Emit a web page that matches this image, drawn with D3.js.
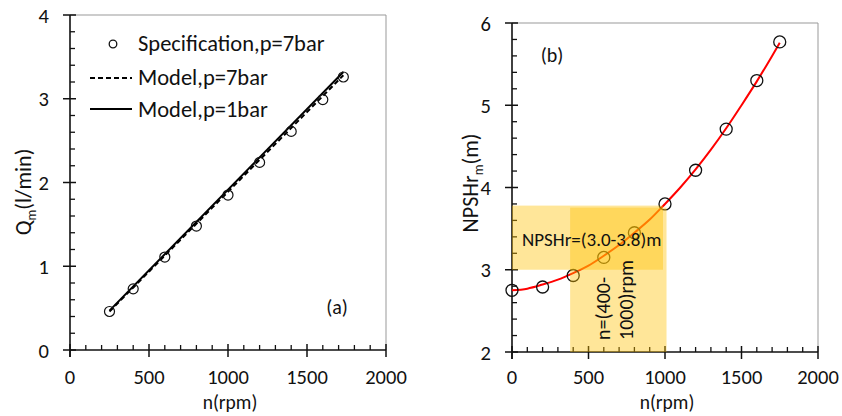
<!DOCTYPE html>
<html><head><meta charset="utf-8">
<script src="https://cdn.jsdelivr.net/npm/d3@7"></script>
<style>body{margin:0;background:#fff}text{font-family:Carlito,Lato,sans-serif;fill:#111}</style>
</head><body><svg id="c" width="842" height="416"></svg>
<script>
// ---- Data (a) ----
const specRpmA = [250, 400, 600, 800, 1000, 1200, 1400, 1600, 1730];
const specQA   = [0.46, 0.73, 1.11, 1.48, 1.85, 2.24, 2.61, 2.99, 3.26];
const modelRpmA = [250, 1730];
const model7barQ = [0.46, 3.28];
const model1barQ = [0.47, 3.32];
const legendLabels = ["Specification,p=7bar", "Model,p=7bar", "Model,p=1bar"];
// ---- Data (b) ----
const specRpmB = [0, 200, 400, 600, 800, 1000, 1200, 1400, 1600, 1750];
const npshB    = [2.75, 2.79, 2.93, 3.15, 3.45, 3.80, 4.21, 4.71, 5.30, 5.77];
const curveRpmB = [0, 100, 200, 300, 400, 500, 600, 700, 800, 900, 1000, 1100, 1200, 1300, 1400, 1500, 1600, 1700, 1750];
const curveNpshB = [2.75, 2.77, 2.82, 2.88, 2.96, 3.05, 3.17, 3.30, 3.45, 3.61, 3.80, 4.00, 4.22, 4.46, 4.72, 5.00, 5.29, 5.60, 5.76];
const bandNpsh = [3.0, 3.78];
const bandRpm = [380, 1010];
const xTicks = [0, 500, 1000, 1500, 2000];
const yTicksA = [0, 1, 2, 3, 4];
const yTicksB = [2, 3, 4, 5, 6];

const svg = d3.select("#c");
const FS = 20.5;

function frame(x, y, xt, yt, xMinorStep, yMinorStep, ylab, ysub, ylabRest, ylx, yly, tx) {
  const g = svg.append("g");
  const [x0, x1] = x.range(), [y0, y1] = y.range();
  g.append("line").attr("x1", x0).attr("x2", x1).attr("y1", y1).attr("y2", y1).attr("stroke", "#999").attr("stroke-width", 1);
  g.append("line").attr("x1", x1).attr("x2", x1).attr("y1", y1).attr("y2", y0).attr("stroke", "#999").attr("stroke-width", 1);
  const xd = x.domain(), yd = y.domain();
  for (let v = xd[0]; v <= xd[1] + 1e-9; v += xMinorStep) {
    if (xt.includes(Math.round(v))) continue;
    g.append("line").attr("x1", x(v)).attr("x2", x(v)).attr("y1", y0).attr("y2", y0 - 5).attr("stroke", "#111").attr("stroke-width", 1.3);
  }
  for (let v = yd[0]; v <= yd[1] + 1e-9; v += yMinorStep) {
    if (yt.some(t => Math.abs(t - v) < 1e-6)) continue;
    g.append("line").attr("x1", x0).attr("x2", x0 + 5).attr("y1", y(v)).attr("y2", y(v)).attr("stroke", "#111").attr("stroke-width", 1.3);
  }
  xt.forEach(v => {
    g.append("line").attr("x1", x(v)).attr("x2", x(v)).attr("y1", y0 - 6).attr("y2", y0 + 7).attr("stroke", "#111").attr("stroke-width", 1.5);
    g.append("text").attr("x", x(v)).attr("y", 384).attr("text-anchor", "middle").attr("font-size", FS).text(v);
  });
  yt.forEach(v => {
    g.append("line").attr("x1", x0 - 7).attr("x2", x0 + 6).attr("y1", y(v)).attr("y2", y(v)).attr("stroke", "#111").attr("stroke-width", 1.5);
    g.append("text").attr("x", x0 - 21).attr("y", y(v) + 7.5).attr("text-anchor", "end").attr("font-size", FS).text(v);
  });
  g.append("line").attr("x1", x0).attr("x2", x1).attr("y1", y0).attr("y2", y0).attr("stroke", "#111").attr("stroke-width", 1.6);
  g.append("line").attr("x1", x0).attr("x2", x0).attr("y1", y1).attr("y2", y0 + 7).attr("stroke", "#111").attr("stroke-width", 1.6);
  g.append("text").attr("x", tx).attr("y", 409).attr("text-anchor", "middle").attr("font-size", 19.5).text("n(rpm)");
  const t = g.append("text").attr("transform", `translate(${ylx},${yly}) rotate(-90)`).attr("text-anchor", "middle").attr("font-size", 22);
  t.append("tspan").text(ylab);
  t.append("tspan").attr("font-size", 13.5).attr("dy", 5).text(ysub);
  t.append("tspan").attr("dy", -5).text(ylabRest);
  return g;
}

// ---------- Chart (a) ----------
const xA = d3.scaleLinear().domain([0, 2000]).range([70, 386]);
const yA = d3.scaleLinear().domain([0, 4]).range([350, 15]);
frame(xA, yA, xTicks, yTicksA, 100, 0.2, "Q", "m", "(l/min)", 31, 192, 230);

const lineA = d3.line().x(d => xA(d[0])).y(d => yA(d[1]));
svg.append("path").datum(modelRpmA.map((r, i) => [r, model1barQ[i]])).attr("d", lineA)
  .attr("fill", "none").attr("stroke", "#000").attr("stroke-width", 2);
svg.append("path").datum(modelRpmA.map((r, i) => [r, model7barQ[i]])).attr("d", lineA)
  .attr("fill", "none").attr("stroke", "#000").attr("stroke-width", 2).attr("stroke-dasharray", "5,3");
svg.selectAll(".pa").data(specRpmA.map((r, i) => [r, specQA[i]])).join("circle")
  .attr("cx", d => xA(d[0])).attr("cy", d => yA(d[1])).attr("r", 5)
  .attr("fill", "none").attr("stroke", "#111").attr("stroke-width", 1.2);

// legend
const lg = svg.append("g");
lg.append("circle").attr("cx", 113).attr("cy", 44).attr("r", 3.8).attr("fill", "none").attr("stroke", "#111").attr("stroke-width", 1.3);
lg.append("line").attr("x1", 90).attr("x2", 132).attr("y1", 78).attr("y2", 78).attr("stroke", "#000").attr("stroke-width", 2).attr("stroke-dasharray", "5,3");
lg.append("line").attr("x1", 90).attr("x2", 132).attr("y1", 109).attr("y2", 109).attr("stroke", "#000").attr("stroke-width", 2);
[51, 85, 117].forEach((yy, i) => lg.append("text").attr("x", 138).attr("y", yy).attr("font-size", 22.5).text(legendLabels[i]));
svg.append("text").attr("x", 337).attr("y", 314).attr("text-anchor", "middle").attr("font-size", 20).text("(a)");

// ---------- Chart (b) ----------
const xB = d3.scaleLinear().domain([0, 2000]).range([512, 818]);
const yB = d3.scaleLinear().domain([2, 6]).range([352, 23]);
frame(xB, yB, xTicks, yTicksB, 100, 0.2, "NPSHr", "m", "(m)", 478, 183, 667);

const lineB = d3.line().x(d => xB(d[0])).y(d => yB(d[1])).curve(d3.curveMonotoneX);
svg.append("path").datum(curveRpmB.map((r, i) => [r, curveNpshB[i]])).attr("d", lineB)
  .attr("fill", "none").attr("stroke", "#ff0000").attr("stroke-width", 2);
svg.selectAll(".pb").data(specRpmB.map((r, i) => [r, npshB[i]])).join("circle")
  .attr("cx", d => xB(d[0])).attr("cy", d => yB(d[1])).attr("r", 6)
  .attr("fill", "none").attr("stroke", "#111").attr("stroke-width", 1.3);

// shaded bands
svg.append("rect").attr("x", xB(0)).attr("y", yB(bandNpsh[1])).attr("width", xB(1000) - xB(0) - 2)
  .attr("height", yB(bandNpsh[0]) - yB(bandNpsh[1])).attr("fill", "#FFC000").attr("fill-opacity", 0.4);
svg.append("rect").attr("x", xB(bandRpm[0])).attr("y", yB(bandNpsh[1]) + 2).attr("width", xB(bandRpm[1]) - xB(bandRpm[0]))
  .attr("height", yB(2) - yB(bandNpsh[1]) - 2).attr("fill", "#FFC000").attr("fill-opacity", 0.4);

svg.append("text").attr("x", 522).attr("y", 246).attr("font-size", 19).text("NPSHr=(3.0-3.8)m");
const rt = svg.append("text").attr("transform", "translate(610,340) rotate(-90)").attr("font-size", 20);
rt.append("tspan").attr("x", 0).attr("y", 0).text("n=(400-");
rt.append("tspan").attr("x", 0).attr("y", 23).text("1000)rpm");
svg.append("text").attr("x", 552).attr("y", 62).attr("text-anchor", "middle").attr("font-size", 20).text("(b)");
</script></body></html>
